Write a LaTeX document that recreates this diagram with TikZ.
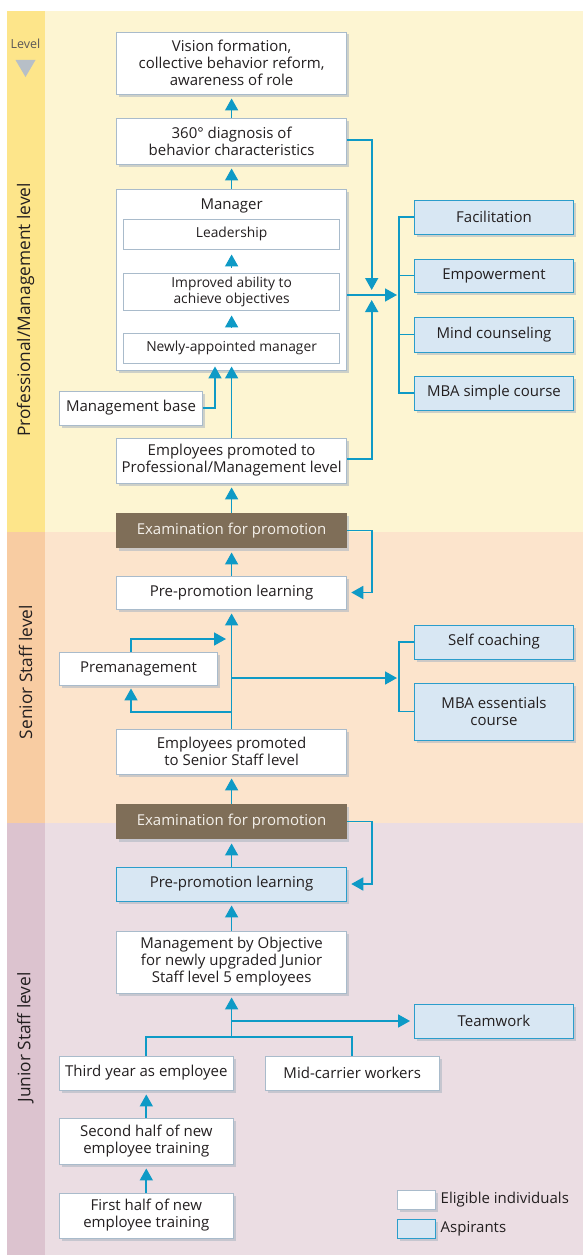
\documentclass[tikz,border=0pt]{standalone}
\usepackage{fontspec}
\setmainfont{Open Sans}
\usetikzlibrary{arrows.meta,shadows,calc}
\definecolor{pmband}{HTML}{FDE58A}
\definecolor{pmmain}{HTML}{FDF5D2}
\definecolor{ssband}{HTML}{F8CCA2}
\definecolor{ssmain}{HTML}{FCE4CC}
\definecolor{jsband}{HTML}{DCC3CF}
\definecolor{jsmain}{HTML}{EBDDE3}
\definecolor{arrowc}{HTML}{0E9AC6}
\definecolor{boxline}{HTML}{A9BBCB}
\definecolor{aspfill}{HTML}{D8E7F3}
\definecolor{aspline}{HTML}{2B9DCB}
\definecolor{examc}{HTML}{7F6E58}
\definecolor{examtxt}{HTML}{F4F0EA}
\definecolor{txt}{HTML}{231F20}
\definecolor{shadowc}{HTML}{AEB8C2}
\definecolor{levtri}{HTML}{B7BFC7}
\newcommand{\boxfont}{\fontsize{15}{17}\selectfont}
\newcommand{\innerfont}{\fontsize{13.8}{16}\selectfont}
\begin{document}
\begin{tikzpicture}[x=1pt,y=-1pt,
  box/.style={draw=boxline, fill=white, line width=0.9pt, align=center, inner sep=0pt, text=txt, font=\boxfont,
    drop shadow={shadow xshift=2.5pt, shadow yshift=-2.5pt, fill=shadowc, opacity=0.6}},
  asp/.style={box, fill=aspfill, draw=aspline},
  exam/.style={box, fill=examc, draw=none, text=examtxt},
  inbox/.style={draw=boxline, fill=white, line width=0.9pt, align=center, inner sep=0pt, text=txt, font=\innerfont,
    minimum width=215.6pt},
  wide/.style={minimum width=230.4pt},
  rbox/.style={minimum width=159pt},
  lbox/.style={minimum width=173.5pt},
  conn/.style={draw=arrowc, line width=1.7pt},
  arr/.style={conn, -{Triangle[width=13pt,length=12pt]}, shorten >=4pt},
  band/.style={rotate=90, text=txt, font=\fontsize{17.3}{20}\selectfont}
]
\useasboundingbox (0,0) rectangle (583,1255);
\fill[white] (0,0) rectangle (583,1255);
% level bands
\fill[pmmain] (6.7,11) rectangle (583,532);
\fill[pmband] (6.7,11) rectangle (45,532);
\fill[ssmain] (6.7,532) rectangle (583,823);
\fill[ssband] (6.7,532) rectangle (45,823);
\fill[jsmain] (6.7,823) rectangle (583,1255);
\fill[jsband] (6.7,823) rectangle (45,1255);
\node[band] (lpm) at (25.5,310) {Professional/Management level};
\node[band] (lss) at (25.5,672) {Senior Staff level};
\node[band] (ljs) at (25.5,1037.5) {Junior Staff level};
\node[text=txt!75, font=\fontsize{12.5}{14}\selectfont] (lev) at (25.5,44) {Level};
\fill[levtri] (15.5,60) -- (35.5,60) -- (25.5,77) -- cycle;

% professional / management
\node[box, wide, minimum height=62pt] (vision) at (231.6,63) {Vision formation,\\collective behavior reform,\\awareness of role};
\node[box, wide, minimum height=46pt] (diag) at (231.6,141) {360° diagnosis of\\behavior characteristics};
\node[box, wide, minimum height=181pt] (mgr) at (231.6,279.5) {};
\node[text=txt, font=\boxfont] (mgrlabel) at (231.6,206) {Manager};
\node[inbox, minimum height=30pt] (lead) at (231.6,234) {Leadership};
\node[inbox, minimum height=37pt] (impr) at (231.6,291.5) {Improved ability to\\achieve objectives};
\node[inbox, minimum height=30pt] (newly) at (231.6,348) {Newly-appointed manager};
\node[box, minimum width=143pt, minimum height=34pt] (mbase) at (131,408) {Management base};
\node[box, wide, minimum height=45pt] (emppm) at (231.6,460.5) {Employees promoted to\\Professional/Management level};
\node[exam, wide, minimum height=35pt] (exam1) at (231.6,530.5) {Examination for promotion};

\node[asp, rbox, minimum height=34pt] (fac) at (494,217) {Facilitation};
\node[asp, rbox, minimum height=33pt] (emp) at (494,275.5) {Empowerment};
\node[asp, rbox, minimum height=35pt] (mind) at (494,334.5) {Mind counseling};
\node[asp, rbox, minimum height=34pt] (mbas) at (494,393) {MBA simple course};

% senior staff
\node[box, wide, minimum height=33pt] (pre1) at (231.6,592.5) {Pre-promotion learning};
\node[box, minimum width=158pt, minimum height=33pt] (preman) at (138.5,668.5) {Premanagement};
\node[box, wide, minimum height=45pt] (empss) at (231.6,751.5) {Employees promoted\\to Senior Staff level};
\node[asp, rbox, minimum height=34pt] (selfc) at (494,642) {Self coaching};
\node[asp, rbox, minimum height=57pt] (mbae) at (494,711.5) {MBA essentials\\course};
\node[exam, wide, minimum height=35pt] (exam2) at (231.6,821.5) {Examination for promotion};

% junior staff
\node[asp, wide, minimum height=34pt] (pre2) at (231.6,884) {Pre-promotion learning};
\node[box, wide, minimum height=62pt] (mbo) at (231.6,962) {Management by Objective\\for newly upgraded Junior\\Staff level 5 employees};
\node[asp, rbox, minimum height=34pt] (team) at (494,1021) {Teamwork};
\node[box, lbox, minimum height=34pt] (third) at (146.3,1073) {Third year as employee};
\node[box, minimum width=174.4pt, minimum height=34pt] (mid) at (352.2,1073) {Mid-carrier workers};
\node[box, lbox, minimum height=46pt] (second) at (146.3,1141) {Second half of new\\employee training};
\node[box, lbox, minimum height=45pt] (first) at (146.3,1215.5) {First half of new\\employee training};

% legend
\node[box, minimum width=38pt, minimum height=19pt] (legw) at (416,1199.5) {};
\node[asp, minimum width=38pt, minimum height=19pt] (legb) at (416,1228.5) {};
\node[anchor=west, text=txt, font=\boxfont, inner sep=0pt] (legwt) at (440.5,1199.5) {Eligible individuals};
\node[anchor=west, text=txt, font=\boxfont, inner sep=0pt] (legbt) at (440.5,1228.5) {Aspirants};

% coordinates
\coordinate (hub) at (371.7,295);
\coordinate (brk1) at (399,295);
\coordinate (brk2) at (399,678);
\coordinate (sj) at (231.6,678);
\coordinate (pl) at (231.6,712);
\coordinate (pt) at (231.6,639);
\coordinate (jj) at (231.6,1037);
\coordinate (tj) at (231.6,1021);

% connectors: professional
\draw[arr] (diag.north) -- (vision.south);
\draw[arr] (mgr.north) -- (diag.south);
\draw[arr, shorten <=5pt, shorten >=5pt] (impr.north) -- (lead.south);
\draw[arr, shorten <=5pt, shorten >=5pt] (newly.north) -- (impr.south);
\draw[arr, shorten >=3pt] (emppm.north) -- (newly.south);
\draw[arr, shorten >=3pt] (mbase.east) -| ([xshift=-16.6pt]newly.south);
\draw[arr] (exam1.north) -- (emppm.south);
\draw[arr, shorten >=0pt] (diag.east |- 0,140) -| ([yshift=5pt]hub);
\draw[arr, shorten >=0pt] (emppm.east |- 0,459) -| ([yshift=-5pt]hub);
\draw[arr, shorten >=0pt] (mgr.east |- hub) -- ([xshift=-2pt]brk1);
\draw[conn] (fac.west) -- (fac.west -| brk1) -- (mbas.west -| brk1) -- (mbas.west);
\draw[conn] (emp.west) -- (emp.west -| brk1);
\draw[conn] (mind.west) -- (mind.west -| brk1);
\draw[arr] (exam1.east) -- (exam1.east -| hub) |- (pre1.east);

% connectors: senior
\draw[arr] (pre1.north) -- (exam1.south);
\draw[arr] (empss.north) -- (pre1.south);
\draw[arr, shorten >=0pt] (sj) -- ([xshift=-2pt]brk2);
\draw[conn] (selfc.west) -- (selfc.west -| brk2) -- (mbae.west -| brk2) -- (mbae.west);
\draw[arr, shorten >=3pt] (pl) -- (131,712) -- (preman.south -| 131,0);
\draw[arr, shorten >=5.6pt] (preman.north -| 131,0) -- (131,639) -- (pt);
\draw[arr] (exam2.north) -- (empss.south);
\draw[arr] (exam2.east) -- (exam2.east -| hub) |- (pre2.east);

% connectors: junior
\draw[arr] (pre2.north) -- (exam2.south);
\draw[arr] (mbo.north) -- (pre2.south);
\draw[arr] (jj) -- (mbo.south);
\draw[arr] (tj) -- (team.west);
\draw[conn] (third.north) -- (third.north |- jj) -- (mid.north |- jj) -- (mid.north);
\draw[arr] (second.north) -- (third.south);
\draw[arr] (first.north) -- (second.south);
\end{tikzpicture}
\end{document}
